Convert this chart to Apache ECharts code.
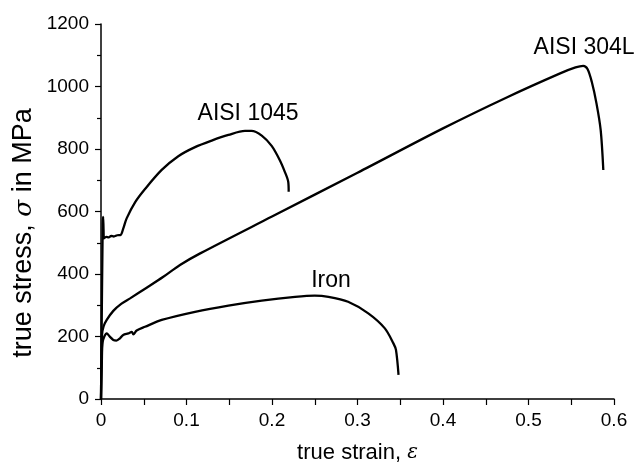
<!DOCTYPE html>
<html>
<head>
<meta charset="utf-8">
<script src="https://cdn.jsdelivr.net/npm/echarts@6/dist/echarts.min.js"></script>
<style>
  html, body { margin: 0; padding: 0; background: #fff; }
  #chart { width: 638px; height: 464px; }
</style>
</head>
<body>
<div id="chart"></div>
<script>
// curves: [true strain, true stress in MPa]
var aisi304L = [
  [0, 0], [0.0012, 205], [0.003, 232], [0.0067, 253], [0.0144, 282], [0.024, 305],
  [0.034, 322], [0.0534, 356], [0.0729, 391], [0.0924, 429], [0.116, 466],
  [0.2, 584], [0.3, 724], [0.4, 866], [0.4745, 965], [0.537, 1042], [0.555, 1061],
  [0.564, 1066], [0.569, 1056], [0.574, 1015], [0.5795, 946], [0.5844, 861], [0.5875, 733]
];
var aisi1045 = [
  [0, 0], [0.002, 560], [0.0025, 583], [0.003, 540], [0.0035, 514], [0.006, 519],
  [0.009, 517], [0.012, 522], [0.015, 520], [0.019, 524], [0.023, 525], [0.026, 545],
  [0.030, 578], [0.040, 630], [0.0515, 672], [0.071, 733], [0.0904, 777], [0.110, 806],
  [0.1295, 827], [0.149, 845], [0.1684, 858], [0.176, 858], [0.188, 843], [0.1996, 810],
  [0.209, 765], [0.215, 727], [0.219, 695], [0.2195, 663]
];
var iron = [
  [0, 0], [0.001, 120], [0.002, 183], [0.0067, 210], [0.0105, 199], [0.0144, 189],
  [0.018, 187], [0.0222, 194], [0.026, 205], [0.032, 210], [0.036, 215], [0.0378, 207],
  [0.0417, 219], [0.0515, 231], [0.071, 253], [0.110, 279], [0.149, 299], [0.188, 315],
  [0.227, 327], [0.250, 331], [0.266, 327], [0.289, 311], [0.3126, 274], [0.332, 226],
  [0.342, 178], [0.345, 157], [0.348, 77]
];
var curveNames = ['AISI 304L', 'AISI 1045', 'Iron'];
// where each curve's name sits, in data coordinates
var labelPos = [[0.565, 1123], [0.172, 913], [0.269, 379]];

var font = 'Liberation Sans, Arial, sans-serif';
var myChart = echarts.init(document.getElementById('chart'));

function lineSeries(name, data) {
  return {
    name: name,
    type: 'line',
    data: data,
    showSymbol: false,
    symbol: 'none',
    smooth: 0.3,
    lineStyle: { color: '#000', width: 2.3 },
    animation: false
  };
}

var option = {
  backgroundColor: '#fff',
  grid: { left: 101, right: 24, top: 24, bottom: 65, containLabel: false, outerBoundsMode: 'none' },
  xAxis: {
    type: 'value',
    min: 0,
    max: 0.6,
    interval: 0.1,
    name: 'true strain, {i|ε}',
    nameLocation: 'middle',
    nameGap: 43,
    nameTextStyle: {
      color: '#000', fontFamily: font, fontSize: 22,
      rich: { i: { fontFamily: 'DejaVu Serif, serif', fontStyle: 'italic', fontSize: 20, color: '#000' } }
    },
    axisLine: { onZero: false, lineStyle: { color: '#000', width: 1.5 } },
    axisTick: { show: true, inside: false, length: 6, lineStyle: { color: '#000', width: 1.2 } },
    minorTick: { show: true, splitNumber: 2, length: 6, lineStyle: { color: '#000', width: 1.2 } },
    axisLabel: { color: '#000', fontFamily: font, fontSize: 19, margin: 12 },
    splitLine: { show: false }
  },
  yAxis: {
    type: 'value',
    min: 0,
    max: 1200,
    interval: 200,
    axisLine: { show: true, lineStyle: { color: '#000', width: 1.5 } },
    axisTick: { show: true, inside: false, length: 6, lineStyle: { color: '#000', width: 1.2 } },
    minorTick: { show: true, splitNumber: 2, length: 4, lineStyle: { color: '#000', width: 1.2 } },
    axisLabel: {
      color: '#000', fontFamily: font, fontSize: 19, margin: 12,
      formatter: function (v) { return String(v); }
    },
    splitLine: { show: false }
  },
  series: [
    lineSeries(curveNames[0], aisi304L),
    lineSeries(curveNames[1], aisi1045),
    lineSeries(curveNames[2], iron)
  ]
};
myChart.setOption(option);

// curve names, placed through the axes
var texts = [];
for (var i = 0; i < curveNames.length; i++) {
  var p = myChart.convertToPixel({ gridIndex: 0 }, labelPos[i]);
  texts.push({
    type: 'text',
    x: p[0],
    y: p[1],
    style: {
      text: curveNames[i],
      fill: '#000',
      font: '23px ' + font,
      textAlign: 'center',
      textVerticalAlign: 'middle'
    }
  });
}
// y axis title, sits a little below the middle of the axis in the original
texts.push({
  type: 'text',
  x: 24,
  y: 233,
  rotation: Math.PI / 2,
  style: {
    text: 'true stress, {i|σ} in MPa',
    fill: '#000',
    font: '27px ' + font,
    textAlign: 'center',
    textVerticalAlign: 'middle',
    rich: { i: { fontFamily: 'DejaVu Serif, serif', fontStyle: 'italic', fontSize: 25, fill: '#000' } }
  }
});
myChart.setOption({ graphic: texts });
</script>
</body>
</html>
